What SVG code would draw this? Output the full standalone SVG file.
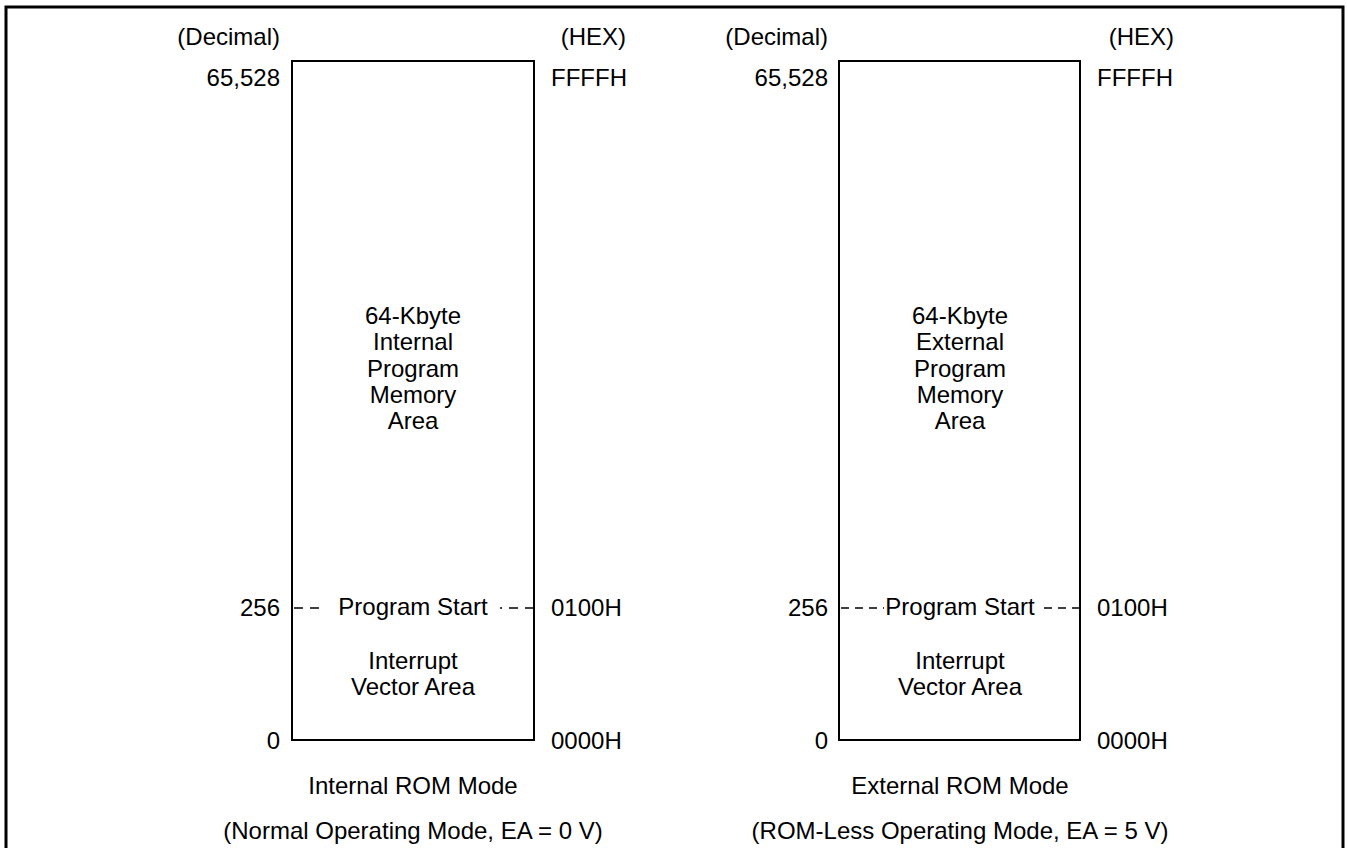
<svg xmlns="http://www.w3.org/2000/svg" width="1348" height="848" viewBox="0 0 1348 848">
<style>
text{font-family:"Liberation Sans",Arial,sans-serif;font-size:24px;fill:#000}
.m{text-anchor:middle}.e{text-anchor:end}
.box{fill:none;stroke:#000;stroke-width:2}
.d{stroke:#000;stroke-width:1.5;stroke-dasharray:9 7}
</style>
<rect width="1348" height="848" fill="#fff"/>
<path d="M6,852 V7 H1343 V852" fill="none" stroke="#000" stroke-width="3"/>
<g id="internal">
<rect class="box" x="292" y="61" width="242" height="679"/>
<text class="e" x="280" y="45">(Decimal)</text>
<text class="e" x="626" y="45">(HEX)</text>
<text class="e" x="280" y="86">65,528</text>
<text x="551" y="86">FFFFH</text>
<text class="m" x="413" y="324">64-Kbyte</text>
<text class="m" x="413" y="350">Internal</text>
<text class="m" x="413" y="377">Program</text>
<text class="m" x="413" y="403">Memory</text>
<text class="m" x="413" y="429">Area</text>
<text class="e" x="280" y="616">256</text>
<text x="551" y="616">0100H</text>
<text class="m" x="413" y="615">Program Start</text>
<text class="m" x="413" y="669">Interrupt</text>
<text class="m" x="413" y="695">Vector Area</text>
<text class="e" x="280" y="749">0</text>
<text x="551" y="749">0000H</text>
<text class="m" x="413" y="794">Internal ROM Mode</text>
<text class="m" x="413" y="839">(Normal Operating Mode, EA = 0 V)</text>
</g>
<g id="external">
<rect class="box" x="839" y="61" width="241" height="679"/>
<text class="e" x="828" y="45">(Decimal)</text>
<text class="e" x="1174" y="45">(HEX)</text>
<text class="e" x="828" y="86">65,528</text>
<text x="1097" y="86">FFFFH</text>
<text class="m" x="960" y="324">64-Kbyte</text>
<text class="m" x="960" y="350">External</text>
<text class="m" x="960" y="377">Program</text>
<text class="m" x="960" y="403">Memory</text>
<text class="m" x="960" y="429">Area</text>
<text class="e" x="828" y="616">256</text>
<text x="1097" y="616">0100H</text>
<text class="m" x="960" y="615">Program Start</text>
<text class="m" x="960" y="669">Interrupt</text>
<text class="m" x="960" y="695">Vector Area</text>
<text class="e" x="828" y="749">0</text>
<text x="1097" y="749">0000H</text>
<text class="m" x="960" y="794">External ROM Mode</text>
<text class="m" x="960" y="839">(ROM-Less Operating Mode, EA = 5 V)</text>
</g>
<g id="connectors">
<line class="d" x1="294" y1="608" x2="320" y2="608"/>
<line class="d" x1="534" y1="608" x2="500" y2="608"/>
<line class="d" x1="841" y1="608" x2="884" y2="608" style="stroke-dasharray:8 6"/>
<line class="d" x1="1080" y1="608" x2="1042" y2="608" style="stroke-dasharray:8 6"/>
</g>
</svg>
